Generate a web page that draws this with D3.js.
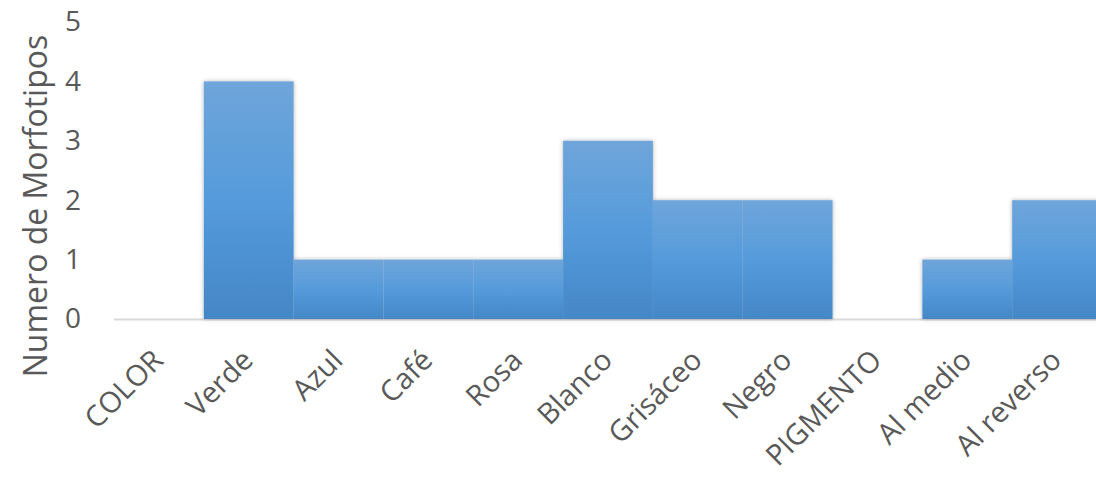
<!DOCTYPE html>
<html>
<head>
<meta charset="utf-8">
<script src="https://cdn.jsdelivr.net/npm/d3@7"></script>
<style>
  body { margin: 0; background: #fff; }
  svg { display: block; font-family: "Open Sans", sans-serif; }
</style>
</head>
<body>
<div id="chart"></div>
<script>
// categories and counts
const categories = ["COLOR", "Verde", "Azul", "Café", "Rosa", "Blanco", "Grisáceo", "Negro", "PIGMENTO", "Al medio", "Al reverso"];
const counts = [0, 4, 1, 1, 1, 3, 2, 2, 0, 1, 2];
const yTicks = [0, 1, 2, 3, 4, 5];
const yTitle = "Numero de Morfotipos";

const W = 1096, H = 494;
const margin = { top: 22, left: 114, bottom: 175 };
const plotW = 988;
const plotH = H - margin.top - margin.bottom;

const svg = d3.select("#chart").append("svg")
    .attr("width", W)
    .attr("height", H);

const defs = svg.append("defs");
const grad = defs.append("linearGradient")
    .attr("id", "barFill")
    .attr("x1", 0).attr("y1", 0).attr("x2", 0).attr("y2", 1);
grad.append("stop").attr("offset", "0%").attr("stop-color", "#6fa5da");
grad.append("stop").attr("offset", "50%").attr("stop-color", "#559bdb");
grad.append("stop").attr("offset", "100%").attr("stop-color", "#4487c7");

const shadow = defs.append("filter").attr("id", "shadow")
    .attr("x", "-10%").attr("y", "-10%").attr("width", "120%").attr("height", "120%");
shadow.append("feDropShadow")
    .attr("dx", 0).attr("dy", 0).attr("stdDeviation", 2)
    .attr("flood-color", "#000").attr("flood-opacity", 0.3);

const g = svg.append("g")
    .attr("transform", `translate(${margin.left},${margin.top})`);

const x = d3.scaleBand()
    .domain(categories)
    .range([0, plotW])
    .padding(0);

const y = d3.scaleLinear()
    .domain([0, 5])
    .range([plotH, 0]);

// baseline
g.append("line")
    .attr("x1", 0).attr("x2", plotW)
    .attr("y1", y(0) + 0.5).attr("y2", y(0) + 0.5)
    .attr("stroke", "#d9d9d9")
    .attr("stroke-width", 2);

// bars
const data = categories.map((c, i) => ({ cat: c, value: counts[i] }));
g.append("g")
    .attr("filter", "url(#shadow)")
    .selectAll("rect")
    .data(data.filter(d => d.value > 0))
    .join("rect")
    .attr("x", d => x(d.cat))
    .attr("y", d => y(d.value))
    .attr("width", x.bandwidth())
    .attr("height", d => y(0) - y(d.value))
    .attr("fill", "url(#barFill)");

// y axis labels
const yAxis = d3.axisLeft(y)
    .tickValues(yTicks)
    .tickSize(0)
    .tickPadding(33)
    .tickFormat(d3.format("d"));

g.append("g")
    .call(yAxis)
    .call(a => a.select(".domain").remove())
    .selectAll("text")
    .attr("fill", "#595959")
    .attr("font-size", 28)
    .attr("font-family", "Open Sans, sans-serif");

// x axis labels, rotated
const xAxis = d3.axisBottom(x).tickSize(0).tickPadding(0);
g.append("g")
    .attr("transform", `translate(0,${plotH})`)
    .call(xAxis)
    .call(a => a.select(".domain").remove())
    .selectAll("text")
    .attr("fill", "#595959")
    .attr("font-size", 29)
    .attr("font-family", "Open Sans, sans-serif")
    .attr("text-anchor", "end")
    .attr("dy", 0)
    .attr("transform", "translate(6,43) rotate(-45)");

// y title
svg.append("text")
    .attr("transform", "translate(47,206) rotate(-90)")
    .attr("text-anchor", "middle")
    .attr("fill", "#595959")
    .attr("font-size", 32)
    .text(yTitle);
</script>
</body>
</html>
